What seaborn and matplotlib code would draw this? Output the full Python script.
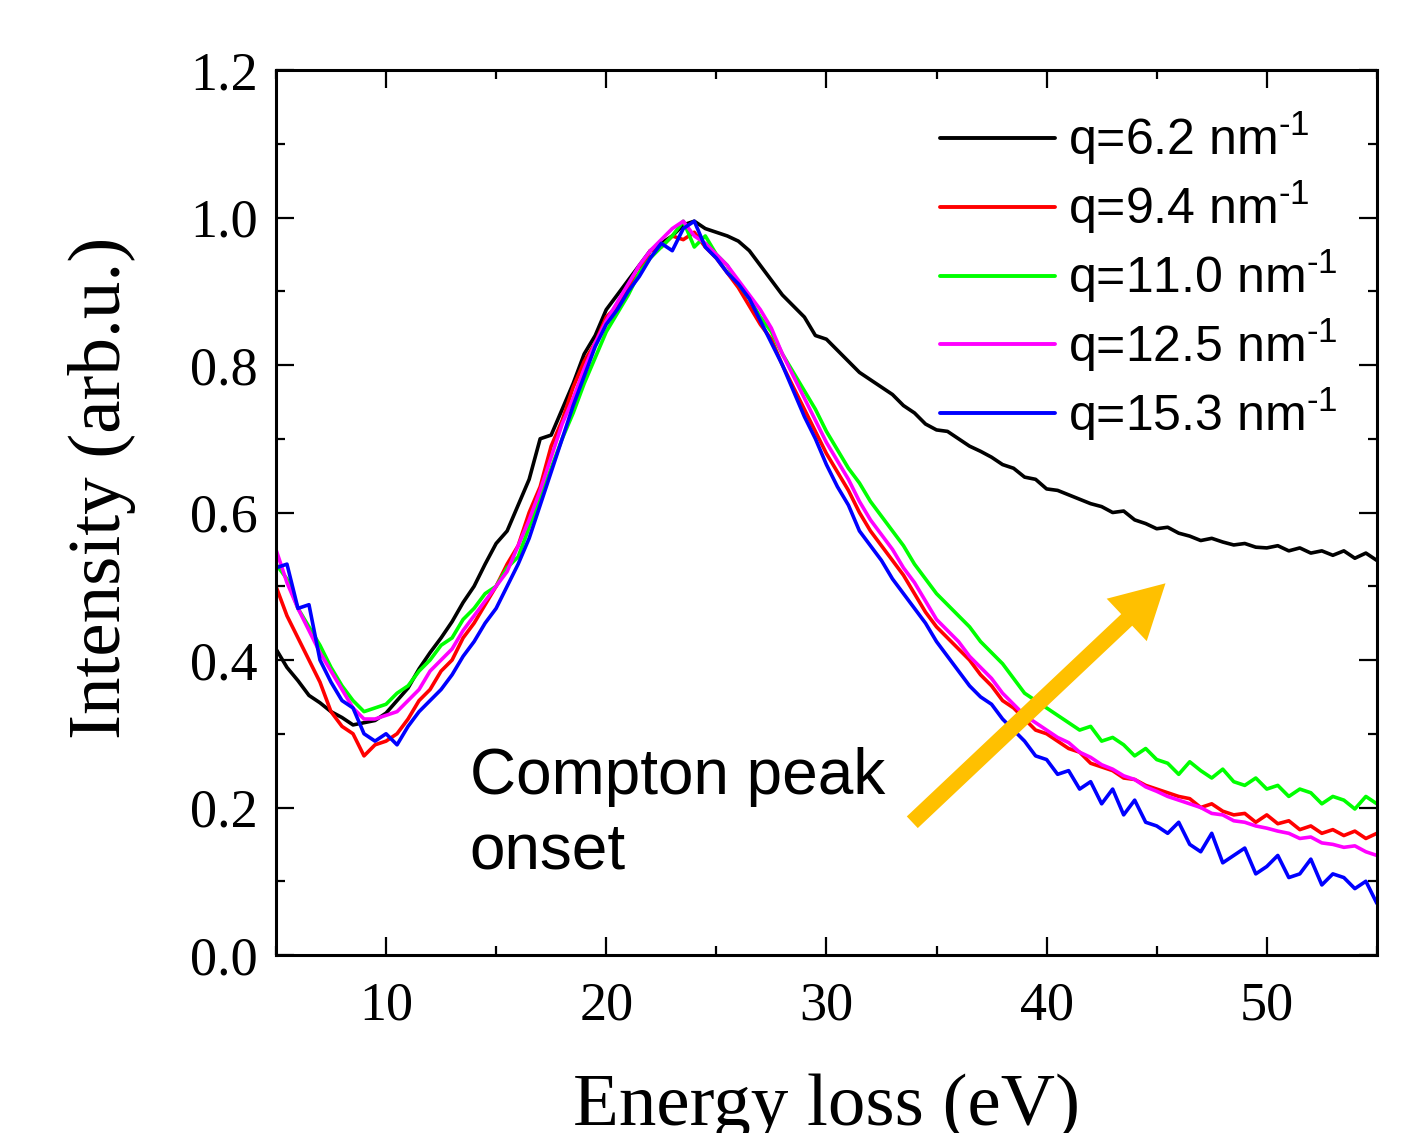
import numpy as np
import pandas as pd
import seaborn as sns
import matplotlib
matplotlib.use('Agg')
import matplotlib.pyplot as plt
from matplotlib.ticker import MultipleLocator

# energy grid (eV), 0.5 eV steps from 5 to 55
energy = np.arange(5.0, 55.01, 0.5)

labels = ['q=6.2 nm$^{\\text{-1}}$', 'q=9.4 nm$^{\\text{-1}}$', 'q=11.0 nm$^{\\text{-1}}$',
          'q=12.5 nm$^{\\text{-1}}$', 'q=15.3 nm$^{\\text{-1}}$']
colors = ['#000000', '#FF0000', '#00FF00', '#FF00FF', '#0000FF']

# intensities
q62 = [0.415, 0.39, 0.372, 0.352, 0.342, 0.330, 0.322, 0.312, 0.315, 0.318,
       0.328, 0.345, 0.362, 0.388, 0.41, 0.43, 0.452, 0.478, 0.50, 0.53,
       0.558, 0.575, 0.61, 0.645, 0.70, 0.705, 0.74, 0.775, 0.815, 0.84,
       0.875, 0.895, 0.915, 0.935, 0.955, 0.965, 0.975, 0.99, 0.995, 0.985,
       0.98, 0.975, 0.968, 0.955, 0.935, 0.915, 0.895, 0.88, 0.865, 0.84,
       0.835, 0.82, 0.805, 0.79, 0.78, 0.77, 0.76, 0.745, 0.735, 0.72,
       0.712, 0.71, 0.70, 0.69, 0.683, 0.675, 0.665, 0.66, 0.648, 0.645,
       0.632, 0.63, 0.624, 0.618, 0.612, 0.608, 0.60, 0.602, 0.59, 0.585,
       0.578, 0.58, 0.572, 0.568, 0.562, 0.565, 0.56, 0.556, 0.558, 0.553,
       0.552, 0.555, 0.548, 0.552, 0.545, 0.548, 0.542, 0.548, 0.538, 0.545,
       0.535]
q94 = [0.50, 0.46, 0.43, 0.40, 0.37, 0.33, 0.31, 0.30, 0.27, 0.285,
       0.29, 0.30, 0.32, 0.345, 0.36, 0.385, 0.40, 0.43, 0.45, 0.475,
       0.50, 0.53, 0.555, 0.60, 0.635, 0.69, 0.725, 0.77, 0.805, 0.83,
       0.865, 0.88, 0.905, 0.925, 0.955, 0.96, 0.975, 0.97, 0.98, 0.96,
       0.945, 0.925, 0.905, 0.88, 0.855, 0.835, 0.80, 0.77, 0.74, 0.71,
       0.68, 0.655, 0.63, 0.60, 0.575, 0.555, 0.535, 0.515, 0.49, 0.465,
       0.445, 0.43, 0.415, 0.40, 0.38, 0.365, 0.345, 0.335, 0.32, 0.305,
       0.30, 0.29, 0.28, 0.275, 0.26, 0.255, 0.25, 0.24, 0.238, 0.23,
       0.225, 0.22, 0.215, 0.212, 0.20, 0.205, 0.195, 0.19, 0.192, 0.18,
       0.19, 0.178, 0.182, 0.17, 0.175, 0.165, 0.17, 0.162, 0.168, 0.158,
       0.165]
q110 = [0.53, 0.51, 0.47, 0.445, 0.42, 0.39, 0.365, 0.345, 0.33, 0.335,
        0.34, 0.355, 0.365, 0.385, 0.40, 0.42, 0.43, 0.455, 0.47, 0.49,
        0.50, 0.525, 0.54, 0.58, 0.62, 0.66, 0.70, 0.735, 0.775, 0.81,
        0.845, 0.87, 0.895, 0.925, 0.945, 0.96, 0.975, 0.995, 0.96, 0.975,
        0.95, 0.935, 0.91, 0.89, 0.865, 0.845, 0.815, 0.79, 0.765, 0.74,
        0.71, 0.685, 0.66, 0.64, 0.615, 0.595, 0.575, 0.555, 0.53, 0.51,
        0.49, 0.475, 0.46, 0.445, 0.425, 0.41, 0.395, 0.375, 0.355, 0.345,
        0.335, 0.325, 0.315, 0.305, 0.31, 0.29, 0.295, 0.285, 0.27, 0.28,
        0.265, 0.26, 0.245, 0.262, 0.25, 0.24, 0.252, 0.235, 0.23, 0.24,
        0.225, 0.23, 0.215, 0.225, 0.22, 0.205, 0.215, 0.21, 0.198, 0.215,
        0.205]
q125 = [0.55, 0.505, 0.47, 0.44, 0.41, 0.385, 0.36, 0.335, 0.32, 0.32,
        0.325, 0.33, 0.345, 0.36, 0.385, 0.40, 0.415, 0.44, 0.46, 0.48,
        0.50, 0.52, 0.555, 0.59, 0.63, 0.675, 0.72, 0.755, 0.795, 0.83,
        0.86, 0.885, 0.91, 0.935, 0.955, 0.97, 0.985, 0.995, 0.975, 0.965,
        0.95, 0.935, 0.915, 0.895, 0.875, 0.85, 0.815, 0.785, 0.755, 0.725,
        0.695, 0.67, 0.645, 0.615, 0.59, 0.57, 0.55, 0.525, 0.505, 0.48,
        0.455, 0.44, 0.425, 0.405, 0.39, 0.375, 0.355, 0.34, 0.325, 0.315,
        0.305, 0.295, 0.288, 0.275, 0.268, 0.258, 0.252, 0.243, 0.238, 0.228,
        0.222, 0.215, 0.21, 0.205, 0.20, 0.192, 0.19, 0.182, 0.18, 0.175,
        0.172, 0.168, 0.165, 0.158, 0.16, 0.152, 0.15, 0.146, 0.148, 0.14,
        0.135]
q153 = [0.525, 0.53, 0.47, 0.475, 0.40, 0.37, 0.345, 0.335, 0.30, 0.29,
        0.30, 0.285, 0.31, 0.33, 0.345, 0.36, 0.38, 0.405, 0.425, 0.45,
        0.47, 0.50, 0.53, 0.565, 0.61, 0.655, 0.70, 0.745, 0.785, 0.825,
        0.855, 0.875, 0.90, 0.92, 0.945, 0.965, 0.955, 0.985, 0.995, 0.96,
        0.945, 0.925, 0.91, 0.89, 0.86, 0.83, 0.80, 0.765, 0.73, 0.70,
        0.665, 0.635, 0.61, 0.575, 0.555, 0.535, 0.51, 0.49, 0.47, 0.45,
        0.425, 0.405, 0.385, 0.365, 0.35, 0.34, 0.32, 0.305, 0.29, 0.27,
        0.265, 0.245, 0.25, 0.225, 0.235, 0.205, 0.225, 0.19, 0.21, 0.18,
        0.175, 0.165, 0.18, 0.15, 0.14, 0.165, 0.125, 0.135, 0.145, 0.11,
        0.12, 0.135, 0.105, 0.11, 0.13, 0.095, 0.11, 0.105, 0.09, 0.10,
        0.07]

series = [q62, q94, q110, q125, q153]
df = pd.concat([pd.DataFrame({'energy': energy, 'intensity': s, 'q': lab})
                for s, lab in zip(series, labels)], ignore_index=True)

sns.set_style('ticks')
plt.rcParams['font.family'] = ['Liberation Serif', 'DejaVu Serif']
plt.rcParams['mathtext.fontset'] = 'custom'
plt.rcParams['mathtext.rm'] = 'Liberation Sans'
plt.rcParams['mathtext.it'] = 'Liberation Sans'
plt.rcParams['mathtext.sf'] = 'Liberation Sans'
for key in ['text.color', 'axes.labelcolor', 'xtick.color', 'ytick.color']:
    plt.rcParams[key] = 'black'

fig = plt.figure(figsize=(14.18, 11.33), dpi=100)
ax = fig.add_axes([0.1946, 0.1571, 0.7764, 0.7811])

sns.lineplot(data=df, x='energy', y='intensity', hue='q',
             palette=dict(zip(labels, colors)), linewidth=2.6,
             ax=ax, legend=True)

ax.set_xlim(5, 55)
ax.set_ylim(0, 1.2)
ax.xaxis.set_major_locator(MultipleLocator(10))
ax.xaxis.set_minor_locator(MultipleLocator(5))
ax.yaxis.set_major_locator(MultipleLocator(0.2))
ax.yaxis.set_minor_locator(MultipleLocator(0.1))
ax.yaxis.set_major_formatter(plt.FuncFormatter(lambda v, p: f'{v:.1f}'))
ax.tick_params(which='both', direction='in', top=True, right=True,
               width=1.6, labelsize=39)
ax.tick_params(which='major', length=13)
ax.tick_params(which='minor', length=6.5)
ax.tick_params(axis='x', pad=19)
ax.tick_params(axis='y', pad=13)
for sp in ax.spines.values():
    sp.set_linewidth(2.2)
    sp.set_color('black')

ax.set_xlabel('Energy loss (eV)', fontsize=54, labelpad=30)
ax.set_ylabel('Intensity (arb.u.)', fontsize=54)
ax.yaxis.set_label_coords(-0.127, 0.528)

leg = ax.legend(loc='upper left', bbox_to_anchor=(0.603, 0.955),
                frameon=False, borderaxespad=0, borderpad=0,
                handlelength=2.3, handletextpad=0.26, labelspacing=0.23,
                prop={'family': 'Liberation Sans', 'size': 36})
for line in leg.get_lines():
    line.set_linewidth(2.8)

ax.text(13.8, 0.282, 'Compton peak\nonset', fontsize=46,
        family='Liberation Sans', ha='left', va='top', linespacing=1.3)

ax.annotate('', xy=(45.4, 0.504), xytext=(33.9, 0.180),
            arrowprops=dict(arrowstyle='simple,head_length=1.6,head_width=1.75,tail_width=0.48',
                            mutation_scale=24, color='#FFC000', lw=0,
                            shrinkA=0, shrinkB=0))

fig.savefig('out.png', dpi=100)
